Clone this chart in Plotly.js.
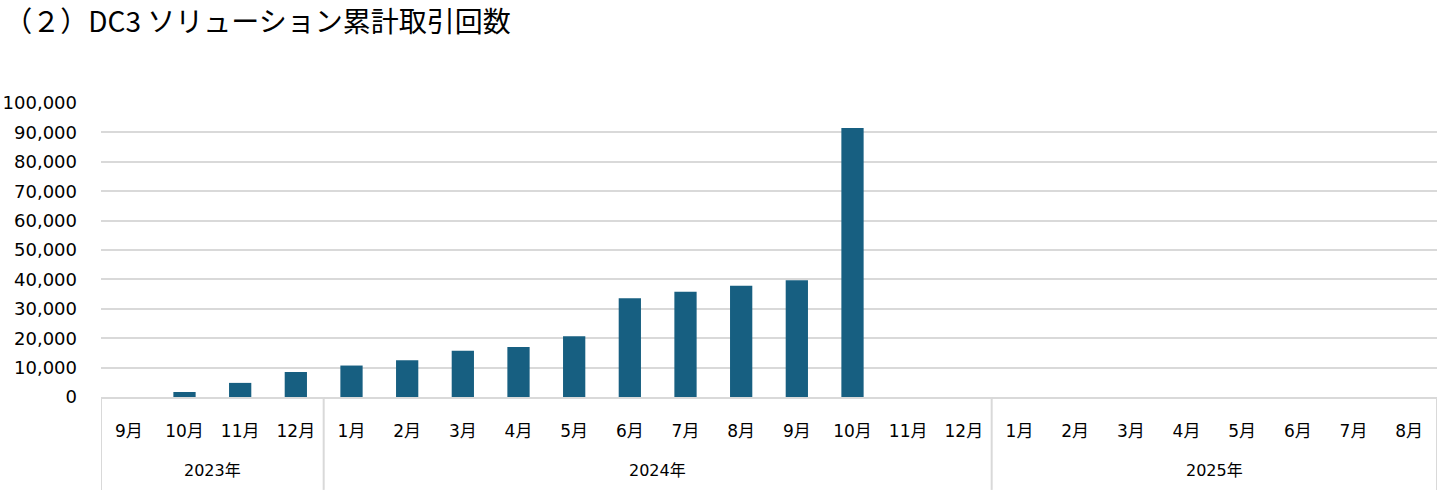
<!DOCTYPE html>
<html>
<head>
<meta charset="utf-8">
<script src="https://cdn.plot.ly/plotly-3.0.1.min.js"></script>
<style>
html, body { margin: 0; padding: 0; background: #fff; }
#chart { width: 1448px; height: 501px; }
</style>
</head>
<body>
<div id="chart"></div>
<script>
const chartTitle = "（２）DC3 ソリューション累計取引回数";
const years = ["2023年","2023年","2023年","2023年",
  "2024年","2024年","2024年","2024年","2024年","2024年","2024年","2024年","2024年","2024年","2024年","2024年",
  "2025年","2025年","2025年","2025年","2025年","2025年","2025年","2025年"];
const months = ["9月","10月","11月","12月",
  "1月","2月","3月","4月","5月","6月","7月","8月","9月","10月","11月","12月",
  "1月","2月","3月","4月","5月","6月","7月","8月"];
const values = [0, 1700, 4800, 8500,
  10700, 12500, 15700, 17000, 20700, 33600, 35800, 37800, 39700, 91500, null, null,
  null, null, null, null, null, null, null, null];
const yTickVals = [0,10000,20000,30000,40000,50000,60000,70000,80000,90000,100000];

const numFont = "DejaVu Sans, Noto Sans CJK JP, sans-serif";
const lineColor = "#d9d9d9";

const idx = months.map((m, i) => i);

// year groups derived from the years array
const groups = [];
years.forEach((y, i) => {
  if (!groups.length || groups[groups.length - 1].name !== y) groups.push({ name: y, start: i, end: i });
  else groups[groups.length - 1].end = i;
});

const annotations = groups.map(g => ({
  x: (g.start + g.end) / 2, xref: "x",
  y: 0, yref: "paper",
  yshift: -73,
  text: g.name,
  showarrow: false,
  xanchor: "center", yanchor: "middle",
  font: { family: numFont, size: 16, color: "#000" }
}));

const bounds = groups.map(g => g.start - 0.5).concat([groups[groups.length - 1].end + 0.5]);
const shapes = bounds.map(b => ({
  type: "line", xref: "x", yref: "paper",
  x0: b, x1: b, y0: 0, y1: -0.316,
  line: { color: lineColor, width: 2 }
}));

const trace = {
  type: "bar",
  x: idx,
  y: values,
  marker: { color: "#175f81", line: { width: 0 } },
  hoverinfo: "skip"
};

const layout = {
  width: 1448,
  height: 501,
  paper_bgcolor: "#ffffff",
  plot_bgcolor: "#ffffff",
  margin: { l: 101, r: 11, t: 103, b: 104 },
  showlegend: false,
  bargap: 0.6,
  title: {
    text: chartTitle,
    x: 0.003, xref: "container", xanchor: "left",
    y: 0.956, yref: "container", yanchor: "middle",
    font: { family: "Noto Sans CJK JP, sans-serif", size: 28, color: "#000" }
  },
  xaxis: {
    type: "linear",
    range: [-0.5, months.length - 0.5],
    tickvals: idx,
    ticktext: months,
    showgrid: false,
    zeroline: false,
    showline: true,
    linecolor: lineColor,
    linewidth: 2,
    ticks: "",
    ticklabelstandoff: 18,
    tickfont: { family: numFont, size: 17, color: "#000" },
    fixedrange: true
  },
  yaxis: {
    range: [0, 100000],
    tickvals: yTickVals,
    tickformat: ",d",
    showgrid: true,
    gridcolor: lineColor,
    gridwidth: 2,
    zeroline: false,
    showline: false,
    ticks: "",
    ticklabelstandoff: 23,
    tickfont: { family: numFont, size: 18, color: "#000" },
    fixedrange: true
  },
  annotations: annotations,
  shapes: shapes
};

Plotly.newPlot("chart", [trace], layout, { displayModeBar: false, staticPlot: true });
</script>
</body>
</html>
